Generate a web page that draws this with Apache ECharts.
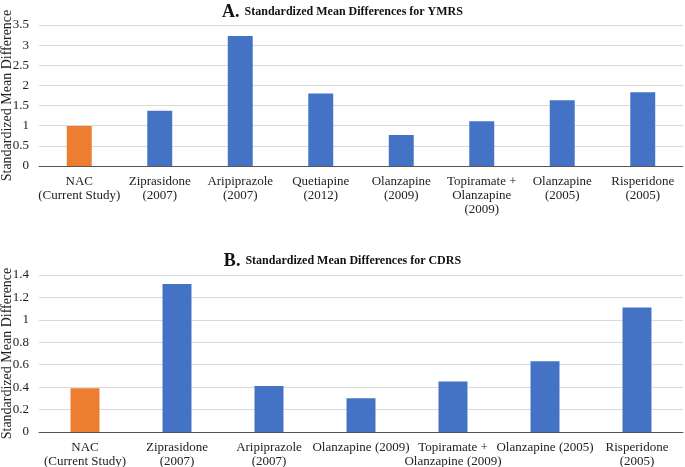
<!DOCTYPE html>
<html><head><meta charset="utf-8">
<script src="https://cdn.jsdelivr.net/npm/echarts@6/dist/echarts.min.js"></script>
<style>html,body{margin:0;padding:0;background:#fff}#c{width:685px;height:467px}</style>
</head><body><div id="c"></div>
<script>
const catsA = ['NAC\n(Current Study)','Ziprasidone\n(2007)','Aripiprazole\n(2007)','Quetiapine\n(2012)','Olanzapine\n(2009)','Topiramate +\nOlanzapine\n(2009)','Olanzapine\n(2005)','Risperidone\n(2005)'];
const valsA = [0.99,1.37,3.23,1.80,0.77,1.11,1.63,1.83];
const catsB = ['NAC\n(Current Study)','Ziprasidone\n(2007)','Aripiprazole\n(2007)','Olanzapine (2009)','Topiramate +\nOlanzapine (2009)','Olanzapine (2005)','Risperidone\n(2005)'];
const valsB = [0.39,1.32,0.41,0.30,0.45,0.63,1.11];
const ticksA = ['0','0.5','1','1.5','2','2.5','3','3.5'];
const ticksB = ['0','0.2','0.4','0.6','0.8','1','1.2','1.4'];
const ORANGE = '#ED7D31', BLUE = '#4472C4';
const font = '"Liberation Serif","Times New Roman",serif';
const colorize = v => v.map((x,i)=>({value:x,itemStyle:{color:i===0?ORANGE:BLUE}}));
const chart = echarts.init(document.getElementById('c'));
const yAx = (idx, max, interval, ticks) => ({
  type:'value', gridIndex:idx, min:0, max:max, interval:interval,
  name:'Standardized Mean Difference', nameLocation:'middle', nameGap:25, nameMoveOverlap:false,
  nameTextStyle:{fontFamily:font,fontSize:14,color:'#222'},
  axisLine:{show:false}, axisTick:{show:false},
  axisLabel:{fontFamily:font,fontSize:13,color:'#222',margin:10,
    formatter:v=>ticks[Math.round(v/interval)]},
  splitLine:{lineStyle:{color:'#d9d9d9',width:1}}
});
const xAx = (idx, cats) => ({
  type:'category', gridIndex:idx, data:cats,
  axisLine:{lineStyle:{color:'#555',width:1}}, axisTick:{show:false},
  axisLabel:{fontFamily:font,fontSize:13,color:'#222',interval:0,lineHeight:14,margin:9}
});
const titleStyle = {rich:{a:{fontFamily:font,fontSize:18,fontWeight:'bold',color:'#111'},b:{fontFamily:font,fontSize:12,fontWeight:'bold',color:'#111'}}};
chart.setOption({
  animation:false,
  title:[
    {text:'{a|A.} {b|Standardized Mean Differences for YMRS}',left:'center',top:-2,textStyle:titleStyle},
    {text:'{a|B.} {b|Standardized Mean Differences for CDRS}',left:'center',top:247,textStyle:titleStyle}
  ],
  grid:[
    {left:39,right:2,top:25,height:141,outerBoundsMode:'none'},
    {left:39,right:2,top:275,height:157,outerBoundsMode:'none'}
  ],
  xAxis:[xAx(0,catsA),xAx(1,catsB)],
  yAxis:[yAx(0,3.5,0.5,ticksA),yAx(1,1.4,0.2,ticksB)],
  series:[
    {type:'bar',xAxisIndex:0,yAxisIndex:0,data:colorize(valsA),barWidth:'31%'},
    {type:'bar',xAxisIndex:1,yAxisIndex:1,data:colorize(valsB),barWidth:'31.5%'}
  ]
});
</script></body></html>
